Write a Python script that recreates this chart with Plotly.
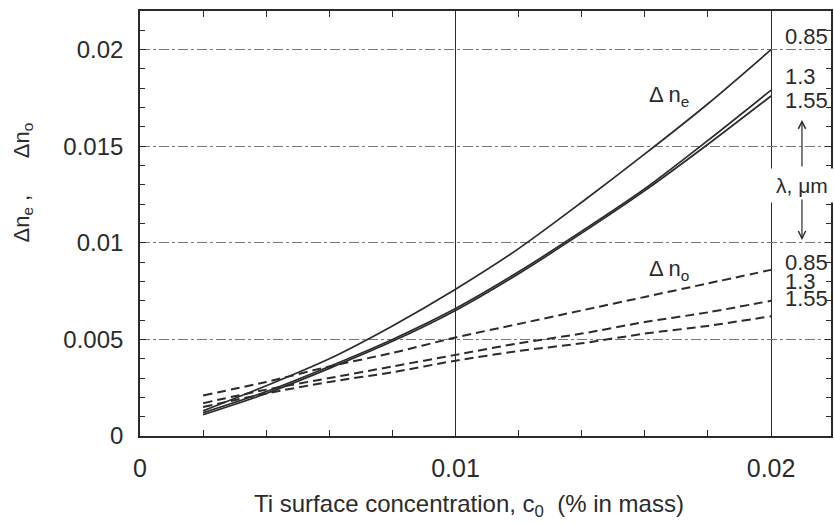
import plotly.graph_objects as go

# Ti surface concentration (% in mass)
c0 = [0.002, 0.004, 0.006, 0.008, 0.010, 0.012, 0.014, 0.016, 0.018, 0.020]

# Extraordinary index change for each wavelength (um)
dne_085 = [0.0013, 0.0026, 0.0040, 0.0057, 0.0076, 0.0097, 0.0121, 0.0146, 0.0172, 0.0200]
dne_130 = [0.0012, 0.0023, 0.0036, 0.0050, 0.0066, 0.0085, 0.0106, 0.0128, 0.0153, 0.0179]
dne_155 = [0.0011, 0.0022, 0.0035, 0.0049, 0.0065, 0.0084, 0.0105, 0.0127, 0.0151, 0.0176]

# Ordinary index change for each wavelength (um)
dno_085 = [0.0021, 0.0028, 0.0036, 0.0043, 0.0051, 0.0058, 0.0065, 0.0072, 0.0079, 0.0086]
dno_130 = [0.0017, 0.0024, 0.0030, 0.0036, 0.0042, 0.0048, 0.0053, 0.0059, 0.0064, 0.0070]
dno_155 = [0.0015, 0.0022, 0.0028, 0.0033, 0.0039, 0.0044, 0.0048, 0.0053, 0.0057, 0.0062]

wavelengths = ["0.85", "1.3", "1.55"]

x_ticks = [0, 0.01, 0.02]
x_ticklabels = ["0", "0.01", "0.02"]
y_ticks = [0, 0.005, 0.01, 0.015, 0.02]
y_ticklabels = ["0", "0.005", "0.01", "0.015", "0.02"]

INK = "#2b2b2b"
FONT = "Liberation Sans, Arial, sans-serif"

fig = go.Figure()

for name, ys in zip(wavelengths, [dne_085, dne_130, dne_155]):
    fig.add_trace(go.Scatter(
        x=c0, y=ys, mode="lines", name=f"Δn_e {name}",
        line=dict(color=INK, width=1.7, shape="spline", smoothing=0.8),
        showlegend=False,
    ))

for name, ys in zip(wavelengths, [dno_085, dno_130, dno_155]):
    fig.add_trace(go.Scatter(
        x=c0, y=ys, mode="lines", name=f"Δn_o {name}",
        line=dict(color=INK, width=2, dash="9px,5px", shape="spline", smoothing=0.8),
        showlegend=False,
    ))

annotations = []

# wavelength labels at the curve ends
label_x = 0.02040
for txt, yv in zip(wavelengths, [0.0207, 0.0186, 0.01735]):
    annotations.append(dict(x=label_x, y=yv, text=txt, showarrow=False,
                            xanchor="left", yanchor="middle", borderpad=0,
                            font=dict(size=22, color=INK, family=FONT)))
for txt, yv in zip(wavelengths, [0.0090, 0.0080, 0.0071]):
    annotations.append(dict(x=label_x, y=yv, text=txt, showarrow=False,
                            xanchor="left", yanchor="middle", borderpad=0,
                            font=dict(size=22, color=INK, family=FONT)))

# curve family labels
annotations.append(dict(x=0.01675, y=0.01760, text="Δ n<sub>e</sub>", showarrow=False,
                        font=dict(size=22, color=INK, family=FONT)))
annotations.append(dict(x=0.01675, y=0.0086, text="Δ n<sub>o</sub>", showarrow=False,
                        font=dict(size=22, color=INK, family=FONT)))

# wavelength legend with arrows
annotations.append(dict(x=0.02098, y=0.01299, text="λ, μm", showarrow=False,
                        xanchor="center", yanchor="middle", bgcolor="white",
                        borderpad=5,
                        font=dict(size=21, color=INK, family=FONT)))
annotations.append(dict(x=0.02098, y=0.01636, ax=0.02098, ay=0.01387,
                        xref="x", yref="y", axref="x", ayref="y", text="",
                        showarrow=True, arrowhead=5, arrowsize=1.2, arrowwidth=1.2,
                        arrowcolor=INK))
annotations.append(dict(x=0.02098, y=0.01015, ax=0.02098, ay=0.01232,
                        xref="x", yref="y", axref="x", ayref="y", text="",
                        showarrow=True, arrowhead=5, arrowsize=1.2, arrowwidth=1.2,
                        arrowcolor=INK))

# axis titles
annotations.append(dict(xref="paper", yref="paper", x=(470 - 140) / 693, y=-0.163,
                        text="Ti surface concentration, c<sub>0</sub>\u00a0 (% in mass)",
                        showarrow=False, xanchor="center", yanchor="middle",
                        font=dict(size=24, color=INK, family=FONT)))
annotations.append(dict(xref="paper", yref="paper", x=-0.170, y=(436 - 183) / 425,
                        text="Δn<sub>e</sub> ,\u00a0\u00a0\u00a0\u00a0\u00a0 Δn<sub>o</sub>",
                        textangle=-90, showarrow=False, xanchor="center", yanchor="middle",
                        font=dict(size=22, color=INK, family=FONT)))

fig.update_layout(
    width=834, height=524,
    margin=dict(l=140, r=1, t=11, b=88),
    paper_bgcolor="white", plot_bgcolor="white",
    font=dict(family=FONT, color=INK),
    annotations=annotations,
)

fig.update_xaxes(
    range=[0, 0.0219],
    tickvals=x_ticks, ticktext=x_ticklabels,
    tickfont=dict(size=25, color=INK),
    ticks="inside", ticklen=6, tickcolor=INK, tickwidth=1.2,
    ticklabelstandoff=9,
    minor=dict(dtick=0.002, tick0=0, ticks="inside", ticklen=6, tickcolor=INK, showgrid=False),
    showgrid=True, gridcolor=INK, gridwidth=1.4,
    showline=True, linecolor=INK, linewidth=1.6, mirror="allticks",
    zeroline=False,
)

fig.update_yaxes(
    range=[0, 0.022],
    tickvals=y_ticks, ticktext=y_ticklabels,
    tickfont=dict(size=24, color=INK),
    ticks="inside", ticklen=6, tickcolor=INK, tickwidth=1.2,
    ticklabelstandoff=10,
    minor=dict(dtick=0.001, tick0=0, ticks="inside", ticklen=5, tickcolor=INK, showgrid=False),
    showgrid=True, gridcolor="#777777", gridwidth=1, griddash="10px,3px,3px,3px",
    showline=True, linecolor=INK, linewidth=1.6, mirror="allticks",
    zeroline=False,
)

fig.write_html("out.html")
